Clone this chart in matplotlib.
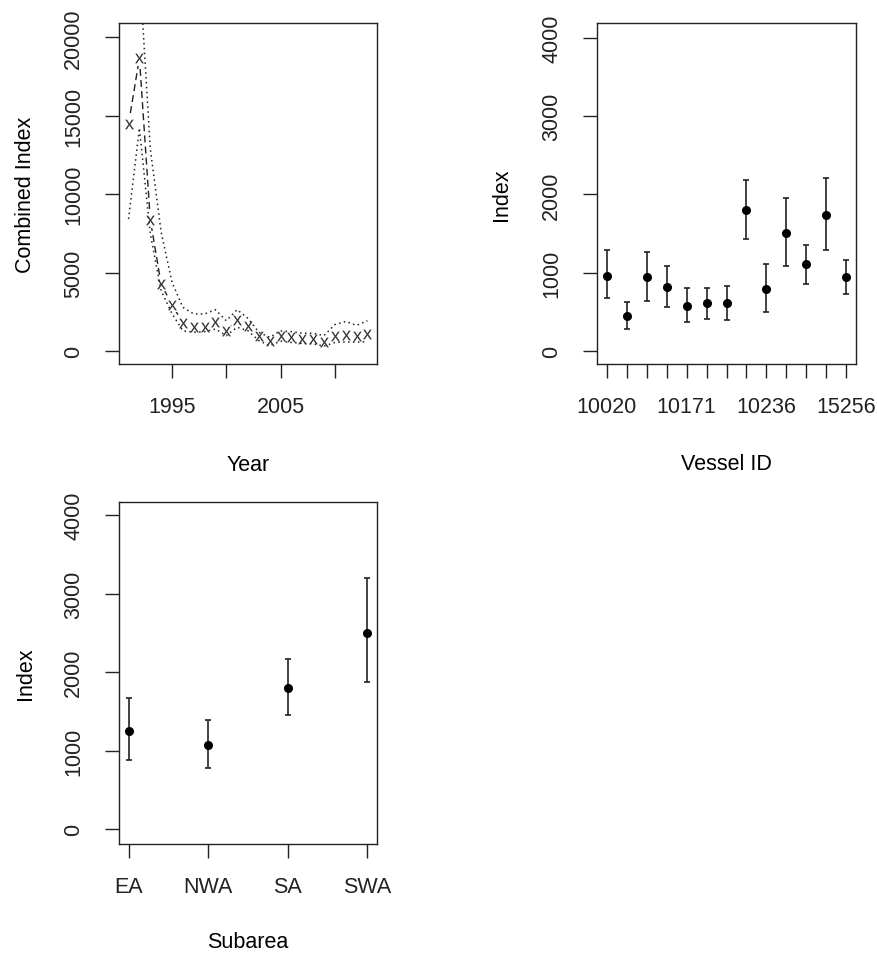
import matplotlib
matplotlib.use('Agg')
import matplotlib.pyplot as plt

plt.rcParams['font.family'] = ['Liberation Sans', 'DejaVu Sans']
plt.rcParams['font.size'] = 15.5

# combined index by year, with dotted bounds
years = list(range(1991, 2014))
comb_index = [14480, 18680, 8390, 4270, 2970, 1800, 1530, 1570, 1850, 1270, 2000, 1640,
              955, 640, 955, 890, 785, 785, 575, 955, 1060, 1000, 1100]
comb_upper = [23000, 24500, 12900, 7600, 4400, 2800, 2380, 2380, 2650, 1950, 2650, 2100,
              1210, 890, 1300, 1250, 1150, 1150, 1000, 1700, 1900, 1650, 1950]
comb_lower = [8430, 14220, 7500, 3860, 2400, 1310, 1210, 1250, 1420, 1000, 1530, 1310,
              680, 360, 650, 560, 500, 480, 330, 560, 600, 580, 620]
year_ticks = [1995, 2000, 2005, 2010]
year_labels = ['1995', '', '2005', '']

# vessel effects (only every 4th id label is printed)
vessel_labels = ['10020', '', '', '', '10171', '', '', '', '10236', '', '', '', '15256']
vessel_idx = [962, 453, 945, 822, 576, 614, 614, 1801, 788, 1504, 1119, 1733, 945]
vessel_hi = [1292, 623, 1271, 1081, 801, 801, 835, 2182, 1119, 1953, 1360, 2212, 1169]
vessel_lo = [674, 284, 640, 568, 377, 411, 394, 1428, 500, 1093, 864, 1288, 729]

# subarea effects
subareas = ['EA', 'NWA', 'SA', 'SWA']
sub_idx = [1247, 1073, 1796, 2501]
sub_hi = [1668, 1388, 2166, 3203]
sub_lo = [881, 776, 1455, 1880]

W, H = 877, 954
fig = plt.figure(figsize=(W / 100, H / 100), dpi=100)


def box_axes(l, t, r, b):
    ax = fig.add_axes([l / W, 1 - b / H, (r - l) / W, (b - t) / H])
    for s in ax.spines.values():
        s.set_linewidth(1.0)
        s.set_color('#222222')
    ax.tick_params(direction='out', length=10, width=1.0, color='#222222',
                   labelcolor='#222222')
    ax.tick_params(axis='x', pad=13)
    ax.tick_params(axis='y', pad=15, labelrotation=90)
    return ax


def fix_ylabels(ax):
    plt.setp(ax.get_yticklabels(), va='center')


# ---- top left: combined index
ax1 = box_axes(119, 24, 377, 365)
ax1.plot(years, comb_index, color='#222222', lw=1.0, ls=(0, (5, 3)), zorder=2)
ax1.plot(years, comb_index, 'o', color='white', ms=10, zorder=3)
ax1.plot(years, comb_upper, color='#222222', lw=1.1, ls=(0, (1, 2.2)), zorder=4)
ax1.plot(years, comb_lower, color='#222222', lw=1.1, ls=(0, (1, 2.2)), zorder=4)
ax1.plot(years, comb_index, ls='none', marker='$\\mathregular{x}$', ms=7, mew=0,
         color='#333333', zorder=5)
ax1.set_xlim(1990.12, 2013.88)
ax1.set_ylim(-809, 20910)
ax1.set_xticks(year_ticks)
ax1.set_xticklabels(year_labels)
ax1.set_yticks([0, 5000, 10000, 15000, 20000])
fix_ylabels(ax1)
ax1.set_xlabel('Year')
ax1.set_ylabel('Combined Index')
ax1.xaxis.set_label_coords(0.5, -0.265)
ax1.yaxis.set_label_coords(-0.32, 0.5)

# ---- top right: vessel
ax2 = box_axes(597, 24, 856, 365)
vx = list(range(1, len(vessel_idx) + 1))
yerr2 = [[m - lo for m, lo in zip(vessel_idx, vessel_lo)],
         [hi - m for m, hi in zip(vessel_idx, vessel_hi)]]
ax2.errorbar(vx, vessel_idx, yerr=yerr2, fmt='o', color='black', ecolor='#222222',
             ms=5.5, elinewidth=1.2, capsize=2.5, capthick=1.2)
ax2.set_xlim(0.52, 13.48)
ax2.set_ylim(-162, 4185)
ax2.set_xticks(vx)
ax2.set_xticklabels(vessel_labels)
ax2.set_yticks([0, 1000, 2000, 3000, 4000])
fix_ylabels(ax2)
ax2.set_xlabel('Vessel ID')
ax2.set_ylabel('Index')
ax2.xaxis.set_label_coords(0.5, -0.262)
ax2.yaxis.set_label_coords(-0.33, 0.5)

# ---- bottom left: subarea
ax3 = box_axes(119, 503, 377, 845)
sx = list(range(1, len(subareas) + 1))
yerr3 = [[m - lo for m, lo in zip(sub_idx, sub_lo)],
         [hi - m for m, hi in zip(sub_idx, sub_hi)]]
ax3.errorbar(sx, sub_idx, yerr=yerr3, fmt='o', color='black', ecolor='#222222',
             ms=5.5, elinewidth=1.2, capsize=2.5, capthick=1.2)
ax3.set_xlim(0.88, 4.12)
ax3.set_ylim(-190, 4168)
ax3.set_xticks(sx)
ax3.set_xticklabels(subareas)
ax3.set_yticks([0, 1000, 2000, 3000, 4000])
fix_ylabels(ax3)
ax3.set_xlabel('Subarea')
ax3.set_ylabel('Index')
ax3.xaxis.set_label_coords(0.5, -0.255)
ax3.yaxis.set_label_coords(-0.32, 0.5)

fig.savefig('out.png', dpi=100)
